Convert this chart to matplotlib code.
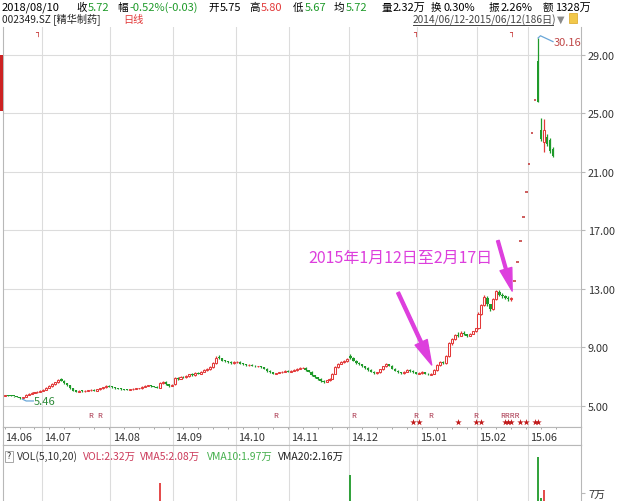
import numpy as np
import matplotlib
matplotlib.use("Agg")
import matplotlib.pyplot as plt
from matplotlib.patches import Rectangle, FancyArrowPatch

plt.rcParams['font.family'] = ['Noto Sans CJK SC', 'DejaVu Sans']
plt.rcParams['axes.unicode_minus'] = False

# ------------------------------------------------------------------ data
# daily OHLC, 2014/06 .. 2015/06
open_jun = [5.70, 5.73, 5.70, 5.68, 5.65, 5.62, 5.52, 5.60, 5.78, 5.84, 5.90, 5.93, 5.97]
high_jun = [5.76, 5.76, 5.73, 5.71, 5.67, 5.63, 5.62, 5.80, 5.88, 5.93, 5.96, 6.00, 6.08]
low_jun = [5.66, 5.67, 5.65, 5.63, 5.58, 5.50, 5.46, 5.58, 5.74, 5.82, 5.86, 5.90, 5.95]
close_jun = [5.72, 5.70, 5.68, 5.66, 5.62, 5.55, 5.60, 5.78, 5.85, 5.90, 5.92, 5.98, 6.05]

open_jul = [6.04, 6.12, 6.24, 6.34, 6.50, 6.62, 6.82, 6.72, 6.56, 6.40, 6.22, 6.06, 5.97, 6.03, 6.00, 6.05, 6.07, 6.12, 6.05, 6.14, 6.22, 6.27, 6.36]
high_jul = [6.14, 6.28, 6.40, 6.55, 6.66, 6.86, 6.88, 6.76, 6.58, 6.44, 6.25, 6.10, 6.06, 6.06, 6.08, 6.12, 6.16, 6.14, 6.18, 6.26, 6.32, 6.40, 6.40]
low_jul = [6.00, 6.08, 6.20, 6.30, 6.46, 6.58, 6.68, 6.52, 6.36, 6.18, 6.02, 5.94, 5.95, 5.97, 5.98, 6.02, 6.04, 6.02, 6.03, 6.12, 6.18, 6.24, 6.28]
close_jul = [6.10, 6.25, 6.35, 6.50, 6.62, 6.80, 6.72, 6.55, 6.40, 6.22, 6.05, 5.98, 6.02, 6.00, 6.05, 6.08, 6.12, 6.05, 6.15, 6.22, 6.28, 6.35, 6.32]

open_aug = [6.32, 6.28, 6.22, 6.18, 6.15, 6.12, 6.10, 6.15, 6.18, 6.20, 6.22, 6.30, 6.37, 6.42, 6.36, 6.30, 6.26, 6.56, 6.64, 6.50, 6.36]
high_aug = [6.35, 6.31, 6.25, 6.21, 6.18, 6.15, 6.18, 6.21, 6.23, 6.25, 6.33, 6.41, 6.46, 6.45, 6.39, 6.33, 6.62, 6.72, 6.68, 6.52, 6.50]
low_aug = [6.25, 6.19, 6.15, 6.12, 6.09, 6.07, 6.08, 6.12, 6.15, 6.17, 6.19, 6.27, 6.34, 6.32, 6.27, 6.22, 6.24, 6.52, 6.46, 6.32, 6.33]
close_aug = [6.28, 6.22, 6.18, 6.15, 6.12, 6.10, 6.15, 6.18, 6.20, 6.22, 6.30, 6.38, 6.42, 6.35, 6.30, 6.25, 6.58, 6.65, 6.50, 6.35, 6.45]

open_sep = [6.48, 6.92, 6.86, 7.00, 6.96, 7.05, 7.16, 7.10, 7.26, 7.20, 7.34, 7.44, 7.50, 7.64, 7.95, 8.32, 8.26, 8.10, 8.04, 8.00, 7.94]
high_sep = [6.95, 6.98, 7.04, 7.06, 7.10, 7.20, 7.22, 7.30, 7.32, 7.40, 7.50, 7.56, 7.70, 8.00, 8.40, 8.45, 8.30, 8.15, 8.10, 8.05, 8.04]
low_sep = [6.45, 6.80, 6.82, 6.90, 6.92, 7.00, 7.06, 7.06, 7.15, 7.16, 7.30, 7.40, 7.46, 7.60, 7.90, 8.18, 8.05, 7.98, 7.96, 7.90, 7.90]
close_sep = [6.90, 6.85, 7.00, 6.95, 7.05, 7.15, 7.10, 7.25, 7.20, 7.35, 7.45, 7.50, 7.65, 7.95, 8.30, 8.25, 8.10, 8.05, 8.00, 7.95, 7.98]

open_oct = [7.98, 8.02, 7.90, 7.86, 7.79, 7.82, 7.76, 7.70, 7.73, 7.65, 7.55, 7.40, 7.30, 7.20, 7.25, 7.30, 7.34, 7.42]
high_oct = [8.06, 8.05, 7.94, 7.90, 7.86, 7.86, 7.80, 7.76, 7.76, 7.68, 7.58, 7.44, 7.34, 7.28, 7.34, 7.40, 7.46, 7.46]
low_oct = [7.94, 7.86, 7.80, 7.76, 7.76, 7.71, 7.66, 7.67, 7.60, 7.50, 7.35, 7.26, 7.15, 7.16, 7.22, 7.27, 7.31, 7.30]
close_oct = [8.00, 7.90, 7.85, 7.80, 7.82, 7.75, 7.70, 7.72, 7.65, 7.55, 7.40, 7.30, 7.20, 7.25, 7.30, 7.35, 7.40, 7.35]

open_nov = [7.34, 7.40, 7.45, 7.55, 7.60, 7.62, 7.45, 7.35, 7.10, 6.95, 6.85, 6.72, 6.64, 6.76, 6.86, 7.20, 7.64, 7.90, 8.00, 8.04]
high_nov = [7.44, 7.50, 7.60, 7.66, 7.68, 7.66, 7.48, 7.38, 7.14, 7.00, 6.90, 6.76, 6.80, 6.90, 7.25, 7.70, 7.95, 8.05, 8.12, 8.28]
low_nov = [7.30, 7.36, 7.42, 7.52, 7.56, 7.42, 7.32, 7.05, 6.90, 6.80, 6.66, 6.60, 6.62, 6.72, 6.84, 7.15, 7.60, 7.86, 7.96, 8.00]
close_nov = [7.40, 7.45, 7.55, 7.60, 7.62, 7.45, 7.35, 7.10, 6.95, 6.85, 6.70, 6.65, 6.75, 6.85, 7.20, 7.65, 7.90, 8.00, 8.05, 8.20]

open_dec = [8.40, 8.30, 8.10, 7.96, 7.86, 7.70, 7.60, 7.45, 7.35, 7.24, 7.30, 7.50, 7.70, 7.86, 7.75, 7.55, 7.40, 7.30, 7.24, 7.34, 7.46, 7.40, 7.30]
high_dec = [8.55, 8.35, 8.15, 8.00, 7.90, 7.75, 7.64, 7.50, 7.40, 7.35, 7.55, 7.75, 7.95, 7.90, 7.78, 7.58, 7.44, 7.34, 7.40, 7.50, 7.52, 7.44, 7.34]
low_dec = [8.20, 8.05, 7.90, 7.80, 7.65, 7.55, 7.40, 7.30, 7.20, 7.20, 7.26, 7.46, 7.66, 7.70, 7.50, 7.36, 7.26, 7.20, 7.20, 7.30, 7.35, 7.25, 7.15]
close_dec = [8.30, 8.10, 7.95, 7.85, 7.70, 7.60, 7.45, 7.35, 7.25, 7.30, 7.50, 7.70, 7.85, 7.75, 7.55, 7.40, 7.30, 7.25, 7.35, 7.45, 7.40, 7.30, 7.20]

open_jan = [7.20, 7.24, 7.30, 7.20, 7.14, 7.20, 7.46, 7.80, 8.00, 7.95, 8.42, 9.30, 9.55, 9.86, 9.80, 10.02, 9.90, 9.80, 9.95, 10.10]
high_jan = [7.30, 7.36, 7.34, 7.24, 7.24, 7.50, 7.85, 8.06, 8.10, 8.45, 9.40, 9.65, 9.95, 10.05, 10.10, 10.10, 9.95, 10.00, 10.15, 10.35]
low_jan = [7.15, 7.20, 7.16, 7.10, 7.10, 7.18, 7.42, 7.75, 7.88, 7.90, 8.38, 9.20, 9.48, 9.70, 9.75, 9.85, 9.72, 9.75, 9.90, 10.05]
close_jan = [7.25, 7.30, 7.20, 7.15, 7.20, 7.45, 7.80, 8.00, 7.95, 8.40, 9.30, 9.55, 9.85, 9.80, 10.00, 9.90, 9.80, 9.95, 10.10, 10.30]

open_feb = [10.30, 11.32, 11.90, 12.40, 11.95, 11.62, 12.30, 12.80, 12.60, 12.50, 12.40, 12.28]
high_feb = [11.40, 12.00, 12.60, 12.50, 12.00, 12.35, 12.95, 12.90, 12.70, 12.60, 12.50, 12.45]
low_feb = [10.25, 11.20, 11.85, 11.85, 11.50, 11.55, 12.25, 12.50, 12.40, 12.30, 12.20, 12.20]
close_feb = [11.30, 11.90, 12.45, 11.95, 11.60, 12.30, 12.85, 12.60, 12.50, 12.40, 12.30, 12.35]

# one-price limit-up days after the resumption
limit_up = [13.55, 14.85, 16.25, 17.90, 19.65, 21.55, 23.65, 25.90]

open_jun15 = [28.60, 23.85, 23.05, 23.40, 23.20, 22.56]
high_jun15 = [30.16, 24.70, 24.60, 23.60, 23.30, 22.70]
low_jun15 = [25.80, 23.10, 22.36, 22.80, 22.30, 22.00]
close_jun15 = [25.80, 23.25, 23.90, 22.90, 22.40, 22.10]

opens = (open_jun + open_jul + open_aug + open_sep + open_oct + open_nov + open_dec
         + open_jan + open_feb + limit_up + open_jun15)
highs = (high_jun + high_jul + high_aug + high_sep + high_oct + high_nov + high_dec
         + high_jan + high_feb + limit_up + high_jun15)
lows = (low_jun + low_jul + low_aug + low_sep + low_oct + low_nov + low_dec
        + low_jan + low_feb + limit_up + low_jun15)
closes = (close_jun + close_jul + close_aug + close_sep + close_oct + close_nov + close_dec
          + close_jan + close_feb + limit_up + close_jun15)

month_labels = ["14.06", "14.07", "14.08", "14.09", "14.10", "14.11", "14.12", "15.01", "15.02", "15.06"]
month_start = [0, 13, 36, 57, 78, 96, 116, 139, 159, 176]
price_ticks = [5, 9, 13, 17, 21, 25, 29]

# visible volume bars (万)
vol_days = [52, 116, 179, 180, 181]
vol_values = [8.5, 9.7, 12.5, 6.2, 7.4]

r_days = [29, 32, 91, 117, 138, 143, 158, 168, 169, 170, 171]
star_days = [137, 139, 152, 158, 160, 168, 169, 170, 173, 175, 178, 179]
info_days = [11, 138, 170]

# ------------------------------------------------------------------ style
RED = '#e23a3a'
GREEN = '#1f9a2a'
GRID = '#dcdcdc'
SPINE = '#b8b8b8'
TXT = '#333333'
MAG = '#dd3fdd'

W, H = 622, 502
fig = plt.figure(figsize=(6.22, 5.02), dpi=100)
fig.patch.set_facecolor('white')


def fx(px):
    return px / W


def fy(py):
    return 1 - py / H


XL, XR = 3, 581
XLIM = (-0.57, 193.4)

ax = fig.add_axes([fx(XL), fy(428), fx(XR) - fx(XL), fy(28) - fy(428)])
ax_d = fig.add_axes([fx(XL), fy(446), fx(XR) - fx(XL), fy(428) - fy(446)])
ax_v = fig.add_axes([fx(XL), 0, fx(XR) - fx(XL), fy(446)])

for a in (ax, ax_d, ax_v):
    a.set_xlim(*XLIM)
    a.set_facecolor('white')
    for s in a.spines.values():
        s.set_color(SPINE)
        s.set_linewidth(0.8)
    a.set_xticks([])
    for m in month_start[1:]:
        a.axvline(m - 0.5, color=GRID, lw=0.8, zorder=0)

# ---- main price panel
ax.set_ylim(3.56, 30.91)
ax.spines['top'].set_visible(False)
ax.yaxis.tick_right()
ax.set_yticks(price_ticks)
ax.set_yticklabels([f"{v:.2f}" for v in price_ticks], fontsize=7.8, color=TXT)
ax.tick_params(axis='y', length=3, color=SPINE, pad=2)
for v in price_ticks:
    ax.axhline(v, color=GRID, lw=0.8, zorder=0)

o = np.array(opens)
h = np.array(highs)
l = np.array(lows)
c = np.array(closes)
idx = np.arange(len(c))
up = c > o
down = c < o
flat = c == o

ax.vlines(idx[up], l[up], h[up], colors=RED, lw=0.9, zorder=2)
ax.vlines(idx[down], l[down], h[down], colors=GREEN, lw=0.9, zorder=2)
ax.bar(idx[down], np.maximum(o - c, 0.06)[down], bottom=c[down], width=0.8,
       color=GREEN, lw=0, zorder=3)
ax.bar(idx[up], (c - o)[up], bottom=o[up], width=0.68, facecolor='white',
       edgecolor=RED, lw=0.75, zorder=3)
ax.hlines(c[flat], idx[flat] - 0.45, idx[flat] + 0.45, colors='#c03030', lw=1.1, zorder=3)

# min / max labels
i_min = int(np.argmin(l))
i_max = int(np.argmax(h))
ax.plot([i_min, i_min + 1.2, i_min + 3.6], [l[i_min], l[i_min] - 0.12, l[i_min] - 0.12],
        color='#6aa7d8', lw=0.9, zorder=4)
ax.text(i_min + 3.8, l[i_min] - 0.1, f"{l[i_min]:.2f}", color='#2e8b3a', fontsize=8,
        ha='left', va='center')
ax.plot([i_max, i_max + 0.8, i_max + 5.0], [h[i_max], h[i_max] + 0.15, h[i_max] - 0.25],
        color='#6aa7d8', lw=0.9, zorder=4)
ax.text(i_max + 5.2, h[i_max] - 0.3, f"{h[i_max]:.2f}", color='#c04848', fontsize=8,
        ha='left', va='center')

# event markers: consecutive "R" days are written as one run
runs = []
for d in r_days:
    if runs and d - runs[-1][-1] == 1:
        runs[-1].append(d)
    else:
        runs.append([d])
for run in runs:
    ax.text(np.mean(run), 4.36, "R" * len(run), color='#a8324a', fontsize=5.5,
            ha='center', va='center')
ax.scatter(star_days, [3.92] * len(star_days), marker='*', s=24, color='#c01818',
           lw=0, zorder=4)
for d in info_days:
    ax.text(d, 30.62, "┐", color='#c02020', fontsize=6, ha='center', va='center',
            family='DejaVu Sans', fontweight='bold')

# annotation
ax.text(101.8, 15.18, "2015年1月12日至2月17日", color=MAG, fontsize=11.5,
        ha='left', va='center')
arrow_style = 'simple,head_length=1.5,head_width=0.8,tail_width=0.18'
ax.add_patch(FancyArrowPatch((132.0, 12.75), (143.3, 7.8), arrowstyle=arrow_style,
                             mutation_scale=12, color=MAG, shrinkA=0, shrinkB=0, zorder=5))
ax.add_patch(FancyArrowPatch((165.5, 16.3), (170.3, 12.85), arrowstyle=arrow_style,
                             mutation_scale=11, color=MAG, shrinkA=0, shrinkB=0, zorder=5))

# ---- date strip
ax_d.set_ylim(0, 1)
ax_d.set_yticks([])
for lab, m in zip(month_labels, month_start):
    ax_d.text(m + 0.25, 0.45, lab, fontsize=7.8, color=TXT, ha='left', va='center')
ax_d.vlines(np.arange(0, 186, 5), 0.88, 1.0, colors='#999999', lw=0.6)

# ---- volume panel
ax_v.set_ylim(5.78, 14.3)
ax_v.yaxis.tick_right()
ax_v.set_yticks([7])
ax_v.set_yticklabels(["7万"], fontsize=7.8, color=TXT)
ax_v.tick_params(axis='y', length=3, color=SPINE, pad=2)
ax_v.spines['bottom'].set_visible(False)
vol_col = [GREEN if c[d] < o[d] else RED for d in vol_days]
ax_v.vlines(vol_days, 0, vol_values, colors=vol_col, lw=1.3, zorder=3)


# ---- header texts
def ftext(px, py, s, color='black', size=8, **kw):
    fig.text(fx(px), fy(py), s, color=color, fontsize=size, ha='left', va='center', **kw)


row1_labels = ["收", "幅", "开", "高", "低", "均", "量", "换", "振", "额"]
row1_label_x = [76, 117, 208, 249, 293, 334, 381, 431, 489, 543]
row1_values = ["5.72", "-0.52%(-0.03)", "5.75", "5.80", "5.67", "5.72", "2.32万", "0.30%",
               "2.26%", "1328万"]
row1_colors = [GREEN, GREEN, 'black', RED, GREEN, GREEN, 'black', 'black', 'black', 'black']
ftext(2, 8, "2018/08/10", 'black', 8)
for lx, lab, val, col in zip(row1_label_x, row1_labels, row1_values, row1_colors):
    ftext(lx, 8, lab, 'black', 7.6)
    ftext(lx + 12, 8, val, col, 8)

ftext(2, 20, "002349.SZ [精华制药]", '#222222', 7.3)
ftext(123, 20, "日线", RED, 7.3)
ftext(413, 20, "2014/06/12-2015/06/12(186日)", '#444444', 7.3)
fig.add_artist(plt.Line2D([fx(413), fx(553)], [fy(26), fy(26)], color='#444444', lw=0.7))
ftext(557, 20, "▼", '#8a8a8a', 7, family='DejaVu Sans')
fig.add_artist(Rectangle((fx(569), fy(24)), fx(8), 10 / H, transform=fig.transFigure,
                         facecolor='#f2c84a', edgecolor='#d9a420', lw=0.5))

# left red marker bar
fig.add_artist(Rectangle((0, fy(112)), fx(3), 56 / H, transform=fig.transFigure,
                         facecolor='#cc2222', edgecolor='none'))

# volume header
fig.add_artist(Rectangle((fx(5), fy(463)), fx(8), 11 / H, transform=fig.transFigure,
                         facecolor='white', edgecolor='#999999', lw=0.6))
ftext(6.5, 457, "?", '#333333', 6.5)
ftext(17, 457, "VOL(5,10,20)", '#333333', 7.5)
ftext(83, 457, "VOL:2.32万", '#cc3c5c', 7.5)
ftext(140, 457, "VMA5:2.08万", '#cc3c5c', 7.5)
ftext(207, 457, "VMA10:1.97万", '#46b04e', 7.5)
ftext(278, 457, "VMA20:2.16万", '#222222', 7.5)

fig.savefig("out.png", dpi=100, facecolor='white')
